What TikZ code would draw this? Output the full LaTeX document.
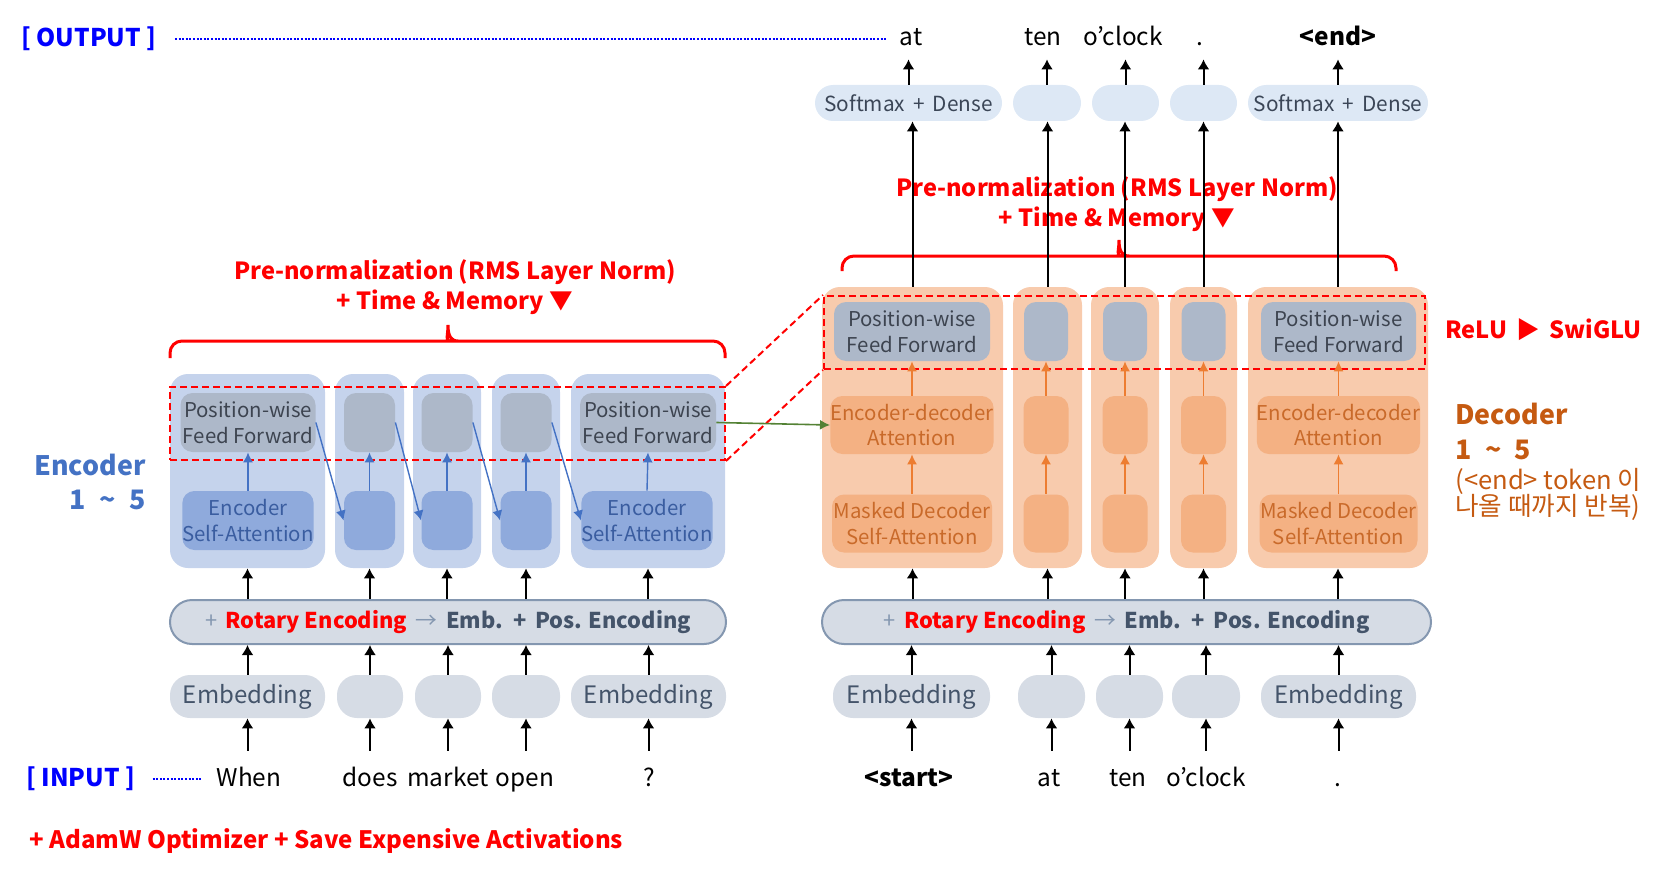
\documentclass[tikz,border=0pt]{standalone}
\usepackage{fontspec}
\setmainfont{Noto Sans CJK KR}
\usetikzlibrary{arrows.meta}

\definecolor{encbg}{HTML}{C5D3EC}
\definecolor{encff}{HTML}{ADB8C9}
\definecolor{encsa}{HTML}{8FAADC}
\definecolor{enctxt}{HTML}{3A5DA0}
\definecolor{fftxt}{HTML}{3D4450}
\definecolor{decbg}{HTML}{F8CBAD}
\definecolor{decin}{HTML}{F4B183}
\definecolor{dectxt}{HTML}{C96A2A}
\definecolor{decarr}{HTML}{ED7D31}
\definecolor{slate}{HTML}{44546A}
\definecolor{smtxt}{HTML}{3B4657}
\definecolor{embbg}{HTML}{D6DCE5}
\definecolor{barline}{HTML}{8497B0}
\definecolor{smbg}{HTML}{DDE8F5}
\definecolor{redtxt}{HTML}{FF0000}
\definecolor{bluetxt}{HTML}{0000FF}
\definecolor{enclbl}{HTML}{4472C4}
\definecolor{declbl}{HTML}{C55A11}
\definecolor{grn}{HTML}{548235}

\newcommand{\bxfont}{\fontsize{10.2}{12.8}\selectfont}
\newcommand{\embfont}{\fontsize{12}{14}\selectfont}
\newcommand{\smxfont}{\fontsize{10.4}{12}\selectfont}
\newcommand{\barfont}{\fontsize{10.9}{13}\selectfont\bfseries}
\newcommand{\wdfont}{\fontsize{12.2}{14}\selectfont}
\newcommand{\prefont}{\fontsize{11.8}{15}\selectfont\bfseries}
\newcommand{\tagfont}{\fontsize{12.2}{14}\selectfont\bfseries}
\newcommand{\biglblfont}{\fontsize{13.4}{15}\selectfont\bfseries}
\newcommand{\smalllblfont}{\fontsize{12.8}{13}\selectfont}

\tikzset{
  encbig/.style={rounded corners=9pt, fill=encbg, minimum height=97pt, inner sep=0pt},
  decbig/.style={rounded corners=9pt, fill=decbg, minimum height=140.5pt, inner sep=0pt},
  ffbox/.style={rounded corners=6pt, fill=encff, text=fftxt, minimum height=29.5pt,
    inner sep=0pt, align=center, font=\bxfont},
  sabox/.style={rounded corners=6pt, fill=encsa, text=enctxt, minimum height=29.5pt,
    inner sep=0pt, align=center, font=\bxfont},
  dinbox/.style={rounded corners=6pt, fill=decin, text=dectxt, minimum height=29pt,
    inner sep=0pt, align=center, font=\bxfont},
  embbox/.style={rounded corners=10pt, fill=embbg, text=slate, minimum height=21.5pt,
    inner sep=0pt, font=\embfont},
  smbox/.style={rounded corners=9pt, fill=smbg, text=smtxt, minimum height=18pt,
    inner sep=0pt, font=\smxfont},
  posbar/.style={rounded corners=11pt, fill=embbg, draw=barline, line width=1pt,
    minimum height=22pt, inner sep=0pt, text=slate, font=\barfont},
  word/.style={font=\wdfont, text height=10pt, text depth=3pt, inner sep=0pt},
  arr/.style={-{Latex[length=5pt,width=6pt]}, line width=1pt},
  encarr/.style={-{Latex[length=5pt,width=5pt]}, line width=0.7pt, draw=enclbl, fill=enclbl},
  decarrow/.style={-{Latex[length=5pt,width=5pt]}, line width=0.7pt, draw=decarr, fill=decarr},
  grnarr/.style={-{Latex[length=5pt,width=5pt]}, line width=0.8pt, draw=grn, fill=grn},
  reddash/.style={draw=redtxt, line width=1pt, dash pattern=on 3.5pt off 2pt},
  redbrace/.style={draw=redtxt, line width=1.5pt},
  dotline/.style={draw=bluetxt, line width=1.2pt, dash pattern=on 1pt off 0.8pt},
  prenorm/.style={text=redtxt, font=\prefont, align=center},
}

\begin{document}
\begin{tikzpicture}[x=0.5pt,y=-0.5pt]
\useasboundingbox (0,0) rectangle (1671,872);

% ---- encoder stack
\node[encbig, minimum width=77.5pt] (e1) at (247.5,471) {};
\node[encbig, minimum width=34.5pt] (e2) at (369.5,471) {};
\node[encbig, minimum width=34pt] (e3) at (447,471) {};
\node[encbig, minimum width=34pt] (e4) at (526,471) {};
\node[encbig, minimum width=77pt] (e5) at (648,471) {};

\node[ffbox, minimum width=67.5pt] (e1ff) at (248,422.5) {Position-wise\\Feed Forward};
\node[ffbox, minimum width=25.5pt] (e2ff) at (369.5,422.5) {};
\node[ffbox, minimum width=25.5pt] (e3ff) at (447,422.5) {};
\node[ffbox, minimum width=25.5pt] (e4ff) at (526,422.5) {};
\node[ffbox, minimum width=68pt] (e5ff) at (648,422.5) {Position-wise\\Feed Forward};

\node[sabox, minimum width=65pt] (e1sa) at (248,520.5) {Encoder\\Self-Attention};
\node[sabox, minimum width=25.5pt] (e2sa) at (369.5,520.5) {};
\node[sabox, minimum width=25.5pt] (e3sa) at (447,520.5) {};
\node[sabox, minimum width=25.5pt] (e4sa) at (526,520.5) {};
\node[sabox, minimum width=65pt] (e5sa) at (647,520.5) {Encoder\\Self-Attention};

% ---- decoder stack
\node[decbig, minimum width=90.5pt] (d1) at (912.5,427.5) {};
\node[decbig, minimum width=34.5pt] (d2) at (1047.5,427.5) {};
\node[decbig, minimum width=34pt] (d3) at (1125,427.5) {};
\node[decbig, minimum width=33.5pt] (d4) at (1203.5,427.5) {};
\node[decbig, minimum width=90pt] (d5) at (1338,427.5) {};

\node[ffbox, minimum width=78pt] (d1ff) at (912,331.5) {Position-wise\\Feed Forward};
\node[ffbox, minimum width=22pt] (d2ff) at (1046,331.5) {};
\node[ffbox, minimum width=22pt] (d3ff) at (1125,331.5) {};
\node[ffbox, minimum width=22pt] (d4ff) at (1203.5,331.5) {};
\node[ffbox, minimum width=77.5pt] (d5ff) at (1338.5,331.5) {Position-wise\\Feed Forward};

\node[dinbox, minimum width=80pt] (d1ed) at (912,425) {Encoder-decoder\\Attention};
\node[dinbox, minimum width=22.5pt] (d2ed) at (1046,425) {};
\node[dinbox, minimum width=22.5pt] (d3ed) at (1125,425) {};
\node[dinbox, minimum width=22.5pt] (d4ed) at (1203.5,425) {};
\node[dinbox, minimum width=79pt] (d5ed) at (1338.5,425) {Encoder-decoder\\Attention};

\node[dinbox, minimum width=80pt] (d1ms) at (912,523.5) {Masked Decoder\\Self-Attention};
\node[dinbox, minimum width=22.5pt] (d2ms) at (1046,523.5) {};
\node[dinbox, minimum width=22.5pt] (d3ms) at (1125,523.5) {};
\node[dinbox, minimum width=22.5pt] (d4ms) at (1203.5,523.5) {};
\node[dinbox, minimum width=79pt] (d5ms) at (1338.5,523.5) {Masked Decoder\\Self-Attention};

% ---- softmax heads
\node[smbox, minimum width=93.5pt] (sm1) at (908.5,103) {Softmax\,{} + \,Dense};
\node[smbox, minimum width=34pt] (sm2) at (1047,103) {};
\node[smbox, minimum width=33.5pt] (sm3) at (1125.5,103) {};
\node[smbox, minimum width=33.5pt] (sm4) at (1203.5,103) {};
\node[smbox, minimum width=90pt] (sm5) at (1338,103) {Softmax\,{} + \,Dense};

% ---- positional encoding bars
\node[posbar, minimum width=278pt] (ebar) at (448,622)
  {{\mdseries\color{barline}+}\, {\color{redtxt}Rotary Encoding}\, {\mdseries\color{barline}→}\, Emb.\, +\, Pos. Encoding};
\node[posbar, minimum width=304.5pt] (dbar) at (1126.5,622)
  {{\mdseries\color{barline}+}\, {\color{redtxt}Rotary Encoding}\, {\mdseries\color{barline}→}\, Emb.\, +\, Pos. Encoding};

% ---- embeddings
\node[embbox, minimum width=77.5pt] (ie1) at (247.5,696.5) {Embedding};
\node[embbox, minimum width=33pt] (ie2) at (370,696.5) {};
\node[embbox, minimum width=33pt] (ie3) at (448,696.5) {};
\node[embbox, minimum width=34pt] (ie4) at (526,696.5) {};
\node[embbox, minimum width=77.5pt] (ie5) at (648.5,696.5) {Embedding};
\node[embbox, minimum width=78.5pt] (id1) at (911.5,696.5) {Embedding};
\node[embbox, minimum width=33.5pt] (id2) at (1051.5,696.5) {};
\node[embbox, minimum width=33.5pt] (id3) at (1129.5,696.5) {};
\node[embbox, minimum width=34pt] (id4) at (1206,696.5) {};
\node[embbox, minimum width=77.5pt] (id5) at (1338.5,696.5) {Embedding};

% ---- words
\node[word] (iw1) at (249,779) {When};
\node[word] (iw2) at (370,779) {does};
\node[word] (iw3) at (448,779) {market};
\node[word] (iw4) at (525,779) {open};
\node[word] (iw5) at (649,779) {?};
\node[word, font=\wdfont\bfseries] (dw1) at (909,779) {<start>};
\node[word] (dw2) at (1049,779) {at};
\node[word] (dw3) at (1128,779) {ten};
\node[word] (dw4) at (1206,779) {o’clock};
\node[word] (dw5) at (1338,779) {.};

\node[word] (ow1) at (911,39) {at};
\node[word] (ow2) at (1043,39) {ten};
\node[word] (ow3) at (1123,39) {o’clock};
\node[word] (ow4) at (1200,39) {.};
\node[word, font=\wdfont\bfseries] (ow5) at (1338,39) {<end>};

% ---- red notes
\node[prenorm] (enote) at (455,287) {Pre-normalization (RMS Layer Norm)\\+ Time \& Memory ▼};
\node[prenorm] (dnote) at (1117,204.5) {Pre-normalization (RMS Layer Norm)\\+ Time \& Memory ▼};
\node[anchor=west, inner sep=0pt, text=redtxt, font=\fontsize{11.8}{14}\selectfont\bfseries] (swiglu) at (1445,330) {ReLU\, ▶\, SwiGLU};
\node[anchor=west, inner sep=0pt, text=redtxt, font=\fontsize{12}{14}\selectfont\bfseries] (optnote) at (29,841) {+ AdamW Optimizer + Save Expensive Activations};

\draw[redbrace] [rounded corners=6pt] (170,358) |- (438,341) [sharp corners]
  .. controls (445,341) and (448,336) .. (448,325)
  .. controls (448,336) and (451,341) .. (458,341) [rounded corners=6pt] -| (725,358);
\draw[redbrace] [rounded corners=6pt] (842,271) |- (1109,256) [sharp corners]
  .. controls (1116,256) and (1119,251) .. (1119,240)
  .. controls (1119,251) and (1122,256) .. (1129,256) [rounded corners=6pt] -| (1396,271);

% ---- labels
\node[anchor=west, inner sep=0pt, text=bluetxt, font=\tagfont] (outlbl) at (21,39) {[ OUTPUT ]};
\node[anchor=west, inner sep=0pt, text=bluetxt, font=\tagfont] (inlbl) at (26,779) {[ INPUT ]};
\draw[dotline, shorten <=9pt, shorten >=6.5pt] (outlbl.east) -- (ow1.west);
\draw[dotline, shorten <=8.5pt, shorten >=7.5pt] (inlbl.east) -- (iw1.west);

\node[anchor=base east, inner sep=0pt, text=enclbl, font=\biglblfont] (enclbl1) at (146,475) {Encoder};
\node[anchor=base east, inner sep=0pt, text=enclbl, font=\biglblfont] (enclbl2) at (146,509) {1\enspace\textasciitilde\enspace5};
\node[anchor=base west, inner sep=0pt, text=declbl, font=\biglblfont] (declbl1) at (1455,424) {Decoder};
\node[anchor=base west, inner sep=0pt, text=declbl, font=\biglblfont] (declbl2) at (1455,459) {1\enspace\textasciitilde\enspace5};
\node[anchor=base west, inner sep=0pt, text=declbl, font=\smalllblfont] (declbl3) at (1455,489) {(<end> token 이};
\node[anchor=base west, inner sep=0pt, text=declbl, font=\smalllblfont] (declbl4) at (1455,515) {나올 때까지 반복)};

% ---- highlighted feed forward rows
\node[reddash, minimum width=277.5pt, minimum height=36.5pt, inner sep=0pt] (encdash) at (447.5,423.5) {};
\node[reddash, minimum width=300.5pt, minimum height=36.5pt, inner sep=0pt] (decdash) at (1124.5,332.5) {};
\draw[reddash] (encdash.north east) -- (decdash.north west);
\draw[reddash] (encdash.south east) -- (decdash.south west);

% ---- connectors inside the stacks
\foreach \i in {1,...,5} {
  \draw[encarr] (e\i sa.north) -- (e\i ff.south);
  \draw[decarrow] (d\i ms.north) -- (d\i ed.south);
  \draw[decarrow] (d\i ed.north) -- (d\i ff.south);
}
\foreach \i/\j in {1/2,2/3,3/4,4/5}
  \draw[encarr] (e\i ff.east) -- (e\j sa.west);
\draw[grnarr] (e5ff.east) -- (d1ed.west);

% ---- black flow arrows
\foreach \i in {1,...,5} {
  \draw[arr, shorten <=7.5pt] (ie\i.south |- iw\i.north) -- (ie\i.south);
  \draw[arr, shorten <=7.5pt] (id\i.south |- dw\i.north) -- (id\i.south);
  \draw[arr] (ie\i.north) -- (ie\i.north |- ebar.south);
  \draw[arr] (id\i.north) -- (id\i.north |- dbar.south);
  \draw[arr] (e\i.south |- ebar.north) -- (e\i.south);
  \draw[arr] (d\i.south |- dbar.north) -- (d\i.south);
  \draw[arr] (d\i.north) -- (d\i.north |- sm\i.south);
  \draw[arr, shorten >=3.5pt] (sm\i.north) -- (sm\i.north |- ow\i.south);
}
\end{tikzpicture}
\end{document}
